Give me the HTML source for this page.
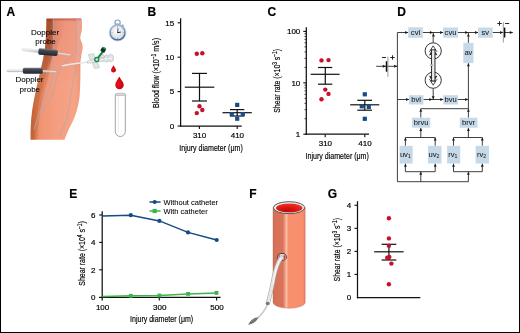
<!DOCTYPE html>
<html><head><meta charset="utf-8"><style>
html,body{margin:0;padding:0;background:#fff;}
body{width:520px;height:333px;overflow:hidden;position:relative;}
svg{position:absolute;left:0;top:0;font-family:"Liberation Sans",sans-serif;will-change:transform;}
text{fill:#000;stroke:#000;stroke-width:0.18px;}
</style></head><body>
<svg width="520" height="333" viewBox="0 0 520 333">
<rect x="0" y="0" width="520" height="333" fill="#fff"/>
<defs>
<linearGradient id="armg" x1="0" y1="0" x2="1" y2="0">
<stop offset="0" stop-color="#d46e46"/><stop offset="0.1" stop-color="#e6865e"/><stop offset="0.22" stop-color="#f09676"/>
<stop offset="0.5" stop-color="#f59e80"/><stop offset="0.85" stop-color="#f7a386"/><stop offset="1" stop-color="#ec9478"/></linearGradient>
<linearGradient id="armv" x1="0" y1="0" x2="0" y2="1">
<stop offset="0" stop-color="#902818" stop-opacity="0.55"/><stop offset="0.025" stop-color="#a83848" stop-opacity="0.1"/>
<stop offset="0.3" stop-color="#a83848" stop-opacity="0.07"/><stop offset="0.55" stop-color="#a83848" stop-opacity="0"/>
<stop offset="1" stop-color="#fff" stop-opacity="0"/></linearGradient>
<linearGradient id="bandg" x1="0" y1="19" x2="0" y2="70" gradientUnits="userSpaceOnUse">
<stop offset="0" stop-color="#782808" stop-opacity="0.42"/><stop offset="0.5" stop-color="#782808" stop-opacity="0.3"/><stop offset="1" stop-color="#782808" stop-opacity="0.1"/></linearGradient>
<linearGradient id="band2" x1="46" y1="0" x2="66" y2="0" gradientUnits="userSpaceOnUse">
<stop offset="0" stop-color="#903818" stop-opacity="0.2"/><stop offset="0.4" stop-color="#903818" stop-opacity="0.16"/><stop offset="1" stop-color="#903818" stop-opacity="0"/></linearGradient>
<linearGradient id="rimg" x1="0" y1="0" x2="0.3" y2="1">
<stop offset="0" stop-color="#a9c0da"/><stop offset="0.6" stop-color="#6a90bb"/><stop offset="1" stop-color="#3d6a9c"/></linearGradient>
<linearGradient id="cylg" x1="0" y1="0" x2="0" y2="1">
<stop offset="0" stop-color="#7a808a"/><stop offset="0.3" stop-color="#404650"/><stop offset="1" stop-color="#22262c"/></linearGradient>
<linearGradient id="rodg" x1="0" y1="0" x2="0" y2="1">
<stop offset="0" stop-color="#fff"/><stop offset="0.6" stop-color="#ddd"/><stop offset="1" stop-color="#aaa"/></linearGradient>
<radialGradient id="dropg" cx="0.4" cy="0.6" r="0.6">
<stop offset="0" stop-color="#ee1020"/><stop offset="1" stop-color="#c8000c"/></radialGradient>
<radialGradient id="watchg" cx="0.45" cy="0.4" r="0.6">
<stop offset="0" stop-color="#ffffff"/><stop offset="1" stop-color="#cfd6de"/></radialGradient>
</defs>
<path d="M46.5,18.6 L81.2,18.6 C82,22 82.3,27 81.6,31 C81,34 80,36 80.2,38.5 C80.6,41 82.6,43 82.6,47 C82.6,51 80.9,55 80.6,60 C80.5,61 80.4,62 80.4,62 C80.4,72 80.6,85 79.6,96 C78.6,106 75,118 70.9,125 C68.5,130 66.5,134 64.5,139.8 L30.6,139.8 C30.4,130 30.8,120 32.2,110 C34,98 37,85 40.6,70 C43,60 45,52 45.8,40 C46.3,30 46.5,24 46.5,18.6 Z" fill="url(#armg)"/>
<path d="M46.5,18.6 L81.2,18.6 C82,22 82.3,27 81.6,31 C81,34 80,36 80.2,38.5 C80.6,41 82.6,43 82.6,47 C82.6,51 80.9,55 80.6,60 C80.5,61 80.4,62 80.4,62 C80.4,72 80.6,85 79.6,96 C78.6,106 75,118 70.9,125 C68.5,130 66.5,134 64.5,139.8 L30.6,139.8 C30.4,130 30.8,120 32.2,110 C34,98 37,85 40.6,70 C43,60 45,52 45.8,40 C46.3,30 46.5,24 46.5,18.6 Z" fill="url(#armv)"/>
<path d="M46.5,19 C46.5,30 45.8,45 43.5,58 C40,74 35,92 32.5,110 C31,122 30.8,132 30.8,139.5 L37,139.5 C37.5,128 39,116 42,102 C44.5,90 48,80 50,70 C52,58 53.2,40 53.2,19 Z" fill="#a04010" opacity="0.2"/>
<path d="M46.5,19 C46.5,30 45.8,45 43.5,58 C40,74 35,92 32.5,110 C31,122 30.8,132 30.8,139.5 L34.5,139.5 C35,128 36.5,116 39,102 C41.5,90 45,80 47,70 C49,58 51,40 51.5,19 Z" fill="#a04010" opacity="0.2"/>
<path d="M76.5,19 L81.2,19 C82,22 82.3,27 81.6,31 C81,34 80,36 80.2,38.5 C80.6,41 82.6,43 82.6,47 C82.6,51 80.9,55 80.6,60 L76,62 C77,50 77,34 76.5,19 Z" fill="#f8b8a8" opacity="0.4"/>
<path d="M46.5,19 L53.4,19 C53.3,32 53.2,45 52.5,55 C51.5,62 49.5,66 47.5,70 L40.6,70 C43,60 45,52 45.8,40 C46.3,30 46.5,24 46.5,19 Z" fill="url(#bandg)"/>
<path d="M46.5,19 L66,19 C64,30 60,42 55,52 C52,58 49,64 46,70 L40.6,70 C43,60 45,52 45.8,40 C46.3,30 46.5,24 46.5,19 Z" fill="url(#band2)"/>
<path d="M53.3,18.8 C53.2,35 53,52 53.4,68 C53,78 50,88 46.2,95 C42,106 37,118 34.2,129.6" fill="none" stroke="#b4a8a8" stroke-width="0.9" stroke-opacity="0.9"/>
<path d="M76.6,19.5 C76.8,32 76.7,46 76.5,51.6 C72,56 66,61 62.8,64.9 C58,72 56,80 52.5,95 C48,104 44,110 40.5,114" fill="none" stroke="#b4a8a8" stroke-width="0.9" stroke-opacity="0.9"/>
<path d="M76.1,65.4 C75,75 72,86 70.9,95 C69.8,106 68.5,112 67.4,116.2 C64,126 61.5,131 59.6,136" fill="none" stroke="#b4a8a8" stroke-width="0.9" stroke-opacity="0.9"/>
<path d="M76.3,53.8 C78.5,55 80,56 81.5,57.6" fill="none" stroke="#b4a8a8" stroke-width="0.9" stroke-opacity="0.9" stroke-opacity="0.6"/>
<path d="M66.5,60 C64.5,62 63.5,64 62.3,66" fill="none" stroke="#b4a8a8" stroke-width="0.9" stroke-opacity="0.9" stroke-opacity="0.7"/>
<path d="M22.2,48.3 L39.4,50.05573439697484 L39.4,52.655734396974836 L22.2,50.7 Z" fill="url(#rodg)" stroke="#c4c4c4" stroke-width="0.3"/>
<line x1="56.7" y1="53.24426560302517" x2="70.3" y2="55.2" stroke="#bdbdbd" stroke-width="1.7"/>
<line x1="56.7" y1="52.844265603025164" x2="70.3" y2="54.75" stroke="#f6f6f6" stroke-width="0.6"/>
<rect x="38.4" y="49.050000000000004" width="19.300000000000004" height="6.3" rx="1.6" fill="url(#cylg)" transform="rotate(5 48.05 52.2)"/>
<path d="M7,69.6 L23.8,69.41316766548195 L23.8,72.01316766548194 L7,72.0 Z" fill="url(#rodg)" stroke="#c4c4c4" stroke-width="0.3"/>
<line x1="41.7" y1="71.08683233451805" x2="55.9" y2="72.0" stroke="#bdbdbd" stroke-width="1.7"/>
<line x1="41.7" y1="70.68683233451804" x2="55.9" y2="71.55" stroke="#f6f6f6" stroke-width="0.6"/>
<rect x="22.8" y="67.8" width="19.900000000000002" height="6.0" rx="1.6" fill="url(#cylg)" transform="rotate(0.5 32.75 70.8)"/>
<text x="45.1" y="34.8" font-size="8" text-anchor="middle" style="stroke-width:0.08px">Doppler</text>
<text x="45.6" y="43.9" font-size="8" text-anchor="middle" style="stroke-width:0.08px">probe</text>
<text x="29.5" y="82.4" font-size="8" text-anchor="middle" style="stroke-width:0.08px">Doppler</text>
<text x="29.8" y="91.5" font-size="8" text-anchor="middle" style="stroke-width:0.08px">probe</text>
<path d="M61.9,65.9 C70,64 80,62.8 90,62" fill="none" stroke="#ddd" stroke-width="1.3"/>
<path d="M61.9,65.9 C70,64 80,62.8 90,62" fill="none" stroke="#fafafa" stroke-width="0.5"/>
<g fill="#e2e5e5" stroke="#a9aeae" stroke-width="0.45">
<path d="M88.2,54.6 L93.6,53.6 L95.8,59.6 L90.4,60.6 Z"/>
<path d="M92.2,62.4 L97.2,61.8 L99.6,67.8 L94.4,68.5 Z"/>
<path d="M87.5,61 L100,58.6 L104,56.2 L104,61.2 L100,61.8 L87.5,63.2 Z"/>
<ellipse cx="106.3" cy="58.6" rx="2.6" ry="3.6"/>
<ellipse cx="110.6" cy="58.1" rx="3" ry="3.8"/>
<path d="M100.5,58 L102.8,53.8 L104.6,57.4 Z"/>
</g>
<path d="M88,61.8 L112,58" stroke="#f6f6f6" stroke-width="0.8"/>
<line x1="97.8" y1="58.2" x2="102.8" y2="51.6" stroke="#178a48" stroke-width="2.1"/>
<circle cx="96.8" cy="59.5" r="2" fill="#d5ecdc" stroke="#178a48" stroke-width="1.3"/>
<rect x="101" y="47.4" width="4.6" height="4.8" rx="1" transform="rotate(30 103.3 49.8)" fill="#14301e"/>
<rect x="101.2" y="47.2" width="4.2" height="1.5" rx="0.6" transform="rotate(30 103.3 49.8)" fill="#2a9a5a"/>
<circle cx="117.6" cy="22.6" r="2.6" fill="none" stroke="#8aa0b8" stroke-width="1.2"/>
<rect x="116.4" y="23.5" width="2.4" height="2.5" fill="#7f95ad"/>
<rect x="121.8" y="24.6" width="2" height="1.8" fill="#8aa0b8" transform="rotate(40 122.8 25.5)"/>
<circle cx="117.6" cy="32.6" r="7.5" fill="url(#watchg)" stroke="url(#rimg)" stroke-width="1.5"/>
<circle cx="117.6" cy="32.6" r="8.4" fill="none" stroke="#a8bcd2" stroke-width="0.6"/>
<circle cx="117.6" cy="27.0" r="0.45" fill="#555"/>
<circle cx="123.19999999999999" cy="32.6" r="0.45" fill="#555"/>
<circle cx="117.6" cy="38.2" r="0.45" fill="#555"/>
<circle cx="112.0" cy="32.6" r="0.45" fill="#555"/>
<line x1="117.6" y1="32.8" x2="118" y2="28.3" stroke="#222" stroke-width="0.8"/>
<line x1="117.4" y1="32.7" x2="120.8" y2="32.1" stroke="#222" stroke-width="1"/>
<path d="M113.5,65.2 C114.3,67 116,68.4 116,70 C116,71.5 114.9,72.4 113.5,72.4 C112.1,72.4 111,71.5 111,70 C111,68.4 112.7,67 113.5,65.2 Z" fill="url(#dropg)"/>
<path d="M119.3,76.6 C120.5,79.5 123.7,82 123.7,85 C123.7,87.5 121.8,89.2 119.5,89.2 C117.2,89.2 115.3,87.5 115.3,85 C115.3,82 118.1,79.5 119.3,76.6 Z" fill="url(#dropg)"/>
<path d="M115.3,94.5 L115.3,131.5 A5,5 0 0 0 125.3,131.5 L125.3,94.5" fill="#fff" stroke="#8c8c8c" stroke-width="0.8"/>
<line x1="118.3" y1="96" x2="118.3" y2="132" stroke="#e2e2e2" stroke-width="0.8"/>
<ellipse cx="120.3" cy="94.4" rx="5.4" ry="1.2" fill="#d8d8d8" stroke="#9a9a9a" stroke-width="0.5"/>
<defs>
<linearGradient id="vesg" x1="273" y1="0" x2="305.2" y2="0" gradientUnits="userSpaceOnUse">
<stop offset="0" stop-color="#cf6a52"/><stop offset="0.05" stop-color="#d87058"/><stop offset="0.3" stop-color="#d8735a"/>
<stop offset="0.36" stop-color="#e8917a"/><stop offset="0.42" stop-color="#fbc0a6"/><stop offset="0.47" stop-color="#f8916e"/>
<stop offset="0.93" stop-color="#f98e6c"/><stop offset="1" stop-color="#e0806a"/></linearGradient>
<radialGradient id="lumg" cx="0.4" cy="0.75" r="0.7">
<stop offset="0" stop-color="#b80c0c"/><stop offset="0.5" stop-color="#d81a14"/><stop offset="1" stop-color="#f0301e"/></radialGradient>
<linearGradient id="tubeg" x1="0" y1="0" x2="1" y2="0">
<stop offset="0" stop-color="#b8b8b8"/><stop offset="0.5" stop-color="#f4f4f4"/><stop offset="1" stop-color="#c4c4c4"/></linearGradient>
</defs>
<path d="M273,207.7 L273,302.3 A16.1,6 0 0 0 305.2,302.3 L305.2,207.7 Z" fill="url(#vesg)" stroke="#b86a5a" stroke-width="0.4"/>
<ellipse cx="289.1" cy="207.7" rx="15.7" ry="6" fill="#f2f2f2" stroke="#555" stroke-width="1"/>
<ellipse cx="289.3" cy="208" rx="13.2" ry="4.6" fill="url(#lumg)"/>
<ellipse cx="282" cy="256.9" rx="4.4" ry="3.4" fill="#ece4e4" stroke="#3a3a3a" stroke-width="1"/>
<ellipse cx="284.4" cy="257" rx="1.1" ry="1.9" fill="#e8302a"/>
<ellipse cx="279.2" cy="256" rx="0.9" ry="1.1" fill="#e8403a"/>
<path d="M281.5,257.5 C277,263 274.5,272 272.5,284 C271,292 269.2,298 268,303" fill="none" stroke="#a8a8a8" stroke-width="4.2" stroke-linecap="round"/>
<path d="M281.5,257.5 C277,263 274.5,272 272.5,284 C271,292 269.2,298 268,303" fill="none" stroke="#e6e6e6" stroke-width="3" stroke-linecap="round"/>
<path d="M281,258.5 C277,264 275,272 273.2,284" fill="none" stroke="#fafafa" stroke-width="1"/>
<path d="M267.6,304.5 C265,310 262,314.5 257.7,317.8" fill="none" stroke="#c4c4c4" stroke-width="1.5"/>
<ellipse cx="267.6" cy="303.4" rx="1.9" ry="1.6" fill="#777"/>
<g transform="translate(253.4,321) rotate(-36.4)"><path d="M5.6,0 C3,-2 -2,-2.2 -5.8,0 C-2,1.6 3,1.8 5.6,0 Z" fill="#8a8a8a" stroke="#555" stroke-width="0.5"/><path d="M-3.5,-1.2 L-2.5,1.2 M-1.5,-1.6 L-0.5,1.5 M0.5,-1.6 L1.5,1.4 M2.5,-1.3 L3.3,1" stroke="#3a3a3a" stroke-width="0.5"/></g>
<text x="6.5" y="15.8" font-size="12" text-anchor="start" font-weight="bold" >A</text>
<text x="147.5" y="15.5" font-size="12" text-anchor="start" font-weight="bold" >B</text>
<text x="267.4" y="15.5" font-size="12" text-anchor="start" font-weight="bold" >C</text>
<text x="397.3" y="16.2" font-size="12" text-anchor="start" font-weight="bold" >D</text>
<text x="69.3" y="198.4" font-size="12" text-anchor="start" font-weight="bold" >E</text>
<text x="249.3" y="198.1" font-size="12" text-anchor="start" font-weight="bold" >F</text>
<text x="327.8" y="197.9" font-size="12" text-anchor="start" font-weight="bold" >G</text>
<line x1="180.6" y1="18.3" x2="180.6" y2="126.6" stroke="#111" stroke-width="1.25"/>
<line x1="180.0" y1="126" x2="241.7" y2="126" stroke="#111" stroke-width="1.25"/>
<line x1="177.6" y1="22.8" x2="180.6" y2="22.8" stroke="#111" stroke-width="1.125"/>
<text x="174.1" y="25.6" font-size="8" text-anchor="end" font-weight="normal" >15</text>
<line x1="177.6" y1="57.2" x2="180.6" y2="57.2" stroke="#111" stroke-width="1.125"/>
<text x="174.1" y="60.0" font-size="8" text-anchor="end" font-weight="normal" >10</text>
<line x1="177.6" y1="91.6" x2="180.6" y2="91.6" stroke="#111" stroke-width="1.125"/>
<text x="174.1" y="94.39999999999999" font-size="8" text-anchor="end" font-weight="normal" >5</text>
<line x1="177.6" y1="126" x2="180.6" y2="126" stroke="#111" stroke-width="1.125"/>
<text x="174.1" y="128.8" font-size="8" text-anchor="end" font-weight="normal" >0</text>
<line x1="199.4" y1="126" x2="199.4" y2="128.9" stroke="#111" stroke-width="1.125"/>
<text x="199.6" y="137.8" font-size="8" text-anchor="middle" font-weight="normal" >310</text>
<line x1="237.2" y1="126" x2="237.2" y2="128.9" stroke="#111" stroke-width="1.125"/>
<text x="237.39999999999998" y="137.8" font-size="8" text-anchor="middle" font-weight="normal" >410</text>
<text x="211" y="150.9" font-size="9.8" text-anchor="middle" font-weight="normal" textLength="63.5" lengthAdjust="spacingAndGlyphs">Injury diameter (μm)</text>
<text transform="translate(159.2,73.0) rotate(-90)" font-size="9.6" text-anchor="middle" textLength="70" lengthAdjust="spacingAndGlyphs">Blood flow (×10<tspan font-size="6.6" dy="-3.2">−1</tspan><tspan dy="3.2"> m/s)</tspan></text>
<line x1="184.8" y1="87.2" x2="214.3" y2="87.2" stroke="#111" stroke-width="1.2"/>
<line x1="199.5" y1="73.4" x2="199.5" y2="101" stroke="#111" stroke-width="1.2"/>
<line x1="192" y1="73.4" x2="207" y2="73.4" stroke="#111" stroke-width="1.2"/>
<line x1="192" y1="101" x2="207" y2="101" stroke="#111" stroke-width="1.2"/>
<circle cx="196.8" cy="53.8" r="2.2" fill="#c8102e"/>
<circle cx="202.3" cy="53.2" r="2.2" fill="#c8102e"/>
<circle cx="199.5" cy="106.2" r="2.2" fill="#c8102e"/>
<circle cx="202.3" cy="110" r="2.2" fill="#c8102e"/>
<circle cx="196.8" cy="113.1" r="2.2" fill="#c8102e"/>
<line x1="222.5" y1="112.7" x2="251.8" y2="112.7" stroke="#111" stroke-width="1.2"/>
<line x1="237.2" y1="109.6" x2="237.2" y2="116" stroke="#111" stroke-width="1.2"/>
<line x1="230" y1="109.6" x2="244.3" y2="109.6" stroke="#111" stroke-width="1.2"/>
<line x1="230" y1="116" x2="244.3" y2="116" stroke="#111" stroke-width="1.2"/>
<rect x="235.1" y="102.80000000000001" width="4.2" height="4.2" fill="#164c8a"/>
<rect x="229.70000000000002" y="112.0" width="4.2" height="4.2" fill="#164c8a"/>
<rect x="240.70000000000002" y="112.0" width="4.2" height="4.2" fill="#164c8a"/>
<rect x="235.1" y="116.60000000000001" width="4.2" height="4.2" fill="#164c8a"/>
<line x1="306.3" y1="27.2" x2="306.3" y2="134.8" stroke="#111" stroke-width="1.25"/>
<line x1="305.7" y1="134.2" x2="369" y2="134.2" stroke="#111" stroke-width="1.25"/>
<line x1="303.3" y1="31.4" x2="306.3" y2="31.4" stroke="#111" stroke-width="1.125"/>
<text x="300.3" y="34.199999999999996" font-size="8" text-anchor="end" font-weight="normal" >100</text>
<line x1="303.3" y1="82.9" x2="306.3" y2="82.9" stroke="#111" stroke-width="1.125"/>
<text x="300.3" y="85.7" font-size="8" text-anchor="end" font-weight="normal" >10</text>
<line x1="303.3" y1="134.2" x2="306.3" y2="134.2" stroke="#111" stroke-width="1.125"/>
<text x="300.3" y="137.0" font-size="8" text-anchor="end" font-weight="normal" >1</text>
<line x1="304.5" y1="67.39695522330497" x2="306.3" y2="67.39695522330497" stroke="#111" stroke-width="0.8"/>
<line x1="304.5" y1="58.32825538193738" x2="306.3" y2="58.32825538193738" stroke="#111" stroke-width="0.8"/>
<line x1="304.5" y1="51.89391044660994" x2="306.3" y2="51.89391044660994" stroke="#111" stroke-width="0.8"/>
<line x1="304.5" y1="46.903044776695026" x2="306.3" y2="46.903044776695026" stroke="#111" stroke-width="0.8"/>
<line x1="304.5" y1="42.825210605242354" x2="306.3" y2="42.825210605242354" stroke="#111" stroke-width="0.8"/>
<line x1="304.5" y1="39.37745093926577" x2="306.3" y2="39.37745093926577" stroke="#111" stroke-width="0.8"/>
<line x1="304.5" y1="36.39086566991491" x2="306.3" y2="36.39086566991491" stroke="#111" stroke-width="0.8"/>
<line x1="304.5" y1="33.756510763874765" x2="306.3" y2="33.756510763874765" stroke="#111" stroke-width="0.8"/>
<line x1="304.5" y1="118.75716122243776" x2="306.3" y2="118.75716122243776" stroke="#111" stroke-width="0.8"/>
<line x1="304.5" y1="109.72367963288131" x2="306.3" y2="109.72367963288131" stroke="#111" stroke-width="0.8"/>
<line x1="304.5" y1="103.31432244487553" x2="306.3" y2="103.31432244487553" stroke="#111" stroke-width="0.8"/>
<line x1="304.5" y1="98.34283877756224" x2="306.3" y2="98.34283877756224" stroke="#111" stroke-width="0.8"/>
<line x1="304.5" y1="94.28084085531908" x2="306.3" y2="94.28084085531908" stroke="#111" stroke-width="0.8"/>
<line x1="304.5" y1="90.84647054726864" x2="306.3" y2="90.84647054726864" stroke="#111" stroke-width="0.8"/>
<line x1="304.5" y1="87.8714836673133" x2="306.3" y2="87.8714836673133" stroke="#111" stroke-width="0.8"/>
<line x1="304.5" y1="85.24735926576264" x2="306.3" y2="85.24735926576264" stroke="#111" stroke-width="0.8"/>
<line x1="325.2" y1="134.2" x2="325.2" y2="137.3" stroke="#111" stroke-width="1.125"/>
<text x="325.4" y="146.2" font-size="8" text-anchor="middle" font-weight="normal" >310</text>
<line x1="364.8" y1="134.2" x2="364.8" y2="137.3" stroke="#111" stroke-width="1.125"/>
<text x="365.0" y="146.2" font-size="8" text-anchor="middle" font-weight="normal" >410</text>
<text x="337.2" y="158.7" font-size="9.8" text-anchor="middle" font-weight="normal" textLength="63.3" lengthAdjust="spacingAndGlyphs">Injury diameter (μm)</text>
<text transform="translate(280,80.9) rotate(-90)" font-size="9.6" text-anchor="middle" textLength="63.8" lengthAdjust="spacingAndGlyphs">Shear rate (×10<tspan font-size="6.6" dy="-3.2">3</tspan><tspan dy="3.2"> s</tspan><tspan font-size="6.6" dy="-3.2">−1</tspan><tspan dy="3.2">)</tspan></text>
<line x1="310.7" y1="74.3" x2="339.6" y2="74.3" stroke="#111" stroke-width="1.2"/>
<line x1="325.3" y1="67.5" x2="325.3" y2="84.2" stroke="#111" stroke-width="1.2"/>
<line x1="318" y1="67.5" x2="332.3" y2="67.5" stroke="#111" stroke-width="1.2"/>
<line x1="318" y1="84.2" x2="332.3" y2="84.2" stroke="#111" stroke-width="1.2"/>
<circle cx="321.5" cy="60.4" r="2.2" fill="#c8102e"/>
<circle cx="328.5" cy="60.1" r="2.2" fill="#c8102e"/>
<circle cx="325.3" cy="89.6" r="2.2" fill="#c8102e"/>
<circle cx="328.5" cy="93.9" r="2.2" fill="#c8102e"/>
<circle cx="321.5" cy="99.3" r="2.2" fill="#c8102e"/>
<line x1="350.2" y1="104.8" x2="379.3" y2="104.8" stroke="#111" stroke-width="1.2"/>
<line x1="364.8" y1="100.3" x2="364.8" y2="110.2" stroke="#111" stroke-width="1.2"/>
<line x1="357.3" y1="100.3" x2="372" y2="100.3" stroke="#111" stroke-width="1.2"/>
<line x1="357.3" y1="110.2" x2="372" y2="110.2" stroke="#111" stroke-width="1.2"/>
<rect x="362.7" y="92.2" width="4.2" height="4.2" fill="#164c8a"/>
<rect x="359.7" y="104.2" width="4.2" height="4.2" fill="#164c8a"/>
<rect x="366.7" y="104.80000000000001" width="4.2" height="4.2" fill="#164c8a"/>
<rect x="362.7" y="116.7" width="4.2" height="4.2" fill="#164c8a"/>
<line x1="102.2" y1="211.2" x2="102.2" y2="300.6" stroke="#111" stroke-width="1.25"/>
<line x1="99.0" y1="297.4" x2="220.6" y2="297.4" stroke="#111" stroke-width="1.25"/>
<line x1="99.2" y1="215.0" x2="102.2" y2="215.0" stroke="#111" stroke-width="1.125"/>
<text x="95.5" y="217.8" font-size="8" text-anchor="end" font-weight="normal" >6</text>
<line x1="99.2" y1="242.4" x2="102.2" y2="242.4" stroke="#111" stroke-width="1.125"/>
<text x="95.5" y="245.20000000000002" font-size="8" text-anchor="end" font-weight="normal" >4</text>
<line x1="99.2" y1="269.8" x2="102.2" y2="269.8" stroke="#111" stroke-width="1.125"/>
<text x="95.5" y="272.6" font-size="8" text-anchor="end" font-weight="normal" >2</text>
<text x="95.5" y="300.0" font-size="8" text-anchor="end" font-weight="normal" >0</text>
<line x1="159.3" y1="297.4" x2="159.3" y2="300.5" stroke="#111" stroke-width="1.125"/>
<line x1="216.6" y1="297.4" x2="216.6" y2="300.5" stroke="#111" stroke-width="1.125"/>
<text x="102.60000000000001" y="309.5" font-size="8" text-anchor="middle" font-weight="normal" >100</text>
<text x="159.70000000000002" y="309.5" font-size="8" text-anchor="middle" font-weight="normal" >300</text>
<text x="217.0" y="309.5" font-size="8" text-anchor="middle" font-weight="normal" >500</text>
<text x="161.6" y="322.3" font-size="9.8" text-anchor="middle" font-weight="normal" textLength="63.1" lengthAdjust="spacingAndGlyphs">Injury diameter (μm)</text>
<text transform="translate(85.3,253.5) rotate(-90)" font-size="9.6" text-anchor="middle" textLength="64.5" lengthAdjust="spacingAndGlyphs">Shear rate (×10<tspan font-size="6.6" dy="-3.2">4</tspan><tspan dy="3.2"> s</tspan><tspan font-size="6.6" dy="-3.2">−1</tspan><tspan dy="3.2">)</tspan></text>
<polyline fill="none" stroke="#154a84" stroke-width="1.5" points="102.4,215.9 130.8,215.2 159.4,220.9 188.0,232.4 216.7,240"/>
<circle cx="130.8" cy="215.2" r="2.1" fill="#154a84"/>
<circle cx="159.4" cy="220.9" r="2.1" fill="#154a84"/>
<circle cx="188.0" cy="232.4" r="2.1" fill="#154a84"/>
<circle cx="216.7" cy="240" r="2.1" fill="#154a84"/>
<polyline fill="none" stroke="#3cb44b" stroke-width="1.5" points="102.4,296.6 130.8,295.8 159.3,295.5 188.1,293.9 216.5,292.9"/>
<rect x="128.9" y="293.90000000000003" width="3.8" height="3.8" fill="#3cb44b"/>
<rect x="157.4" y="293.6" width="3.8" height="3.8" fill="#3cb44b"/>
<rect x="186.2" y="292.0" width="3.8" height="3.8" fill="#3cb44b"/>
<rect x="214.6" y="291.0" width="3.8" height="3.8" fill="#3cb44b"/>
<line x1="149.5" y1="202" x2="160.6" y2="202" stroke="#154a84" stroke-width="1.5"/>
<circle cx="154.7" cy="202" r="2.1" fill="#154a84"/>
<line x1="149.5" y1="211" x2="160.6" y2="211" stroke="#3cb44b" stroke-width="1.5"/>
<rect x="152.6" y="208.9" width="4.2" height="4.2" fill="#3cb44b"/>
<text x="163.5" y="204.5" font-size="7.5" text-anchor="start" font-weight="normal" style="stroke-width:0.06px">Without catheter</text>
<text x="163.5" y="213.5" font-size="7.5" text-anchor="start" font-weight="normal" style="stroke-width:0.06px">With catheter</text>
<line x1="357.5" y1="201.2" x2="357.5" y2="298.3" stroke="#111" stroke-width="1.25"/>
<line x1="356.9" y1="297.7" x2="420.3" y2="297.7" stroke="#111" stroke-width="1.25"/>
<text x="351.2" y="300.3" font-size="8" text-anchor="end" font-weight="normal" >0</text>
<line x1="354.5" y1="274.45" x2="357.5" y2="274.45" stroke="#111" stroke-width="1.125"/>
<text x="351.2" y="277.25" font-size="8" text-anchor="end" font-weight="normal" >1</text>
<line x1="354.5" y1="251.4" x2="357.5" y2="251.4" stroke="#111" stroke-width="1.125"/>
<text x="351.2" y="254.20000000000002" font-size="8" text-anchor="end" font-weight="normal" >2</text>
<line x1="354.5" y1="228.35" x2="357.5" y2="228.35" stroke="#111" stroke-width="1.125"/>
<text x="351.2" y="231.15" font-size="8" text-anchor="end" font-weight="normal" >3</text>
<line x1="354.5" y1="205.3" x2="357.5" y2="205.3" stroke="#111" stroke-width="1.125"/>
<text x="351.2" y="208.10000000000002" font-size="8" text-anchor="end" font-weight="normal" >4</text>
<text transform="translate(340,249.7) rotate(-90)" font-size="9.6" text-anchor="middle" textLength="63.5" lengthAdjust="spacingAndGlyphs">Shear rate (×10<tspan font-size="6.6" dy="-3.2">3</tspan><tspan dy="3.2"> s</tspan><tspan font-size="6.6" dy="-3.2">−1</tspan><tspan dy="3.2">)</tspan></text>
<line x1="374.2" y1="251.8" x2="403.6" y2="251.8" stroke="#111" stroke-width="1.2"/>
<line x1="388.9" y1="244.3" x2="388.9" y2="260" stroke="#111" stroke-width="1.2"/>
<line x1="381.6" y1="244.3" x2="396.3" y2="244.3" stroke="#111" stroke-width="1.2"/>
<line x1="381.6" y1="260" x2="396.3" y2="260" stroke="#111" stroke-width="1.2"/>
<circle cx="388.9" cy="218.2" r="2.2" fill="#c8102e"/>
<circle cx="388.9" cy="238.4" r="2.2" fill="#c8102e"/>
<circle cx="388.9" cy="245.8" r="2.2" fill="#c8102e"/>
<circle cx="387.2" cy="257.7" r="2.2" fill="#c8102e"/>
<circle cx="389.3" cy="256.9" r="2.2" fill="#c8102e"/>
<circle cx="391.4" cy="263.6" r="2.2" fill="#c8102e"/>
<circle cx="388.9" cy="284.2" r="2.2" fill="#c8102e"/>
<line x1="397.4" y1="32.5" x2="397.4" y2="181.7" stroke="#2a2a2a" stroke-width="0.9"/>
<line x1="397.4" y1="32.5" x2="408.2" y2="32.5" stroke="#2a2a2a" stroke-width="0.9"/>
<polygon fill="#1a1a1a" points="408.20,32.50 405.21,31.07 405.21,33.93"/>
<line x1="422.8" y1="32.5" x2="443.1" y2="32.5" stroke="#2a2a2a" stroke-width="0.9"/>
<polygon fill="#1a1a1a" points="443.10,32.50 440.11,31.07 440.11,33.93"/>
<polygon fill="#1a1a1a" points="432.90,32.50 429.91,31.07 429.91,33.93"/>
<polygon fill="#1a1a1a" points="433.50,33.50 432.07,36.49 434.93,36.49"/>
<line x1="457.9" y1="32.5" x2="478" y2="32.5" stroke="#2a2a2a" stroke-width="0.9"/>
<polygon fill="#1a1a1a" points="478.00,32.50 475.01,31.07 475.01,33.93"/>
<polygon fill="#1a1a1a" points="468.20,32.50 465.21,31.07 465.21,33.93"/>
<polygon fill="#1a1a1a" points="468.40,33.50 466.97,36.49 469.83,36.49"/>
<line x1="492.7" y1="32.5" x2="512.8" y2="32.5" stroke="#2a2a2a" stroke-width="0.9"/>
<polygon fill="#1a1a1a" points="512.80,32.50 509.81,31.07 509.81,33.93"/>
<polygon fill="#1a1a1a" points="503.00,32.50 500.01,31.07 500.01,33.93"/>
<line x1="503.3" y1="22.2" x2="503.3" y2="42.5" stroke="#999" stroke-width="1"/>
<line x1="504.6" y1="27.6" x2="504.6" y2="37.5" stroke="#111" stroke-width="1.5"/>
<path d="M497.3,23.5 h4.4 M499.5,21.3 v4.4 M505.1,23.5 h4.1" stroke="#222" stroke-width="1" fill="none"/>
<line x1="376.2" y1="66.3" x2="397.4" y2="66.3" stroke="#2a2a2a" stroke-width="0.9"/>
<polygon fill="#1a1a1a" points="397.10,66.30 394.11,64.87 394.11,67.73"/>
<polygon fill="#1a1a1a" points="385.80,66.30 382.81,64.87 382.81,67.73"/>
<line x1="387.9" y1="56.6" x2="387.9" y2="76.8" stroke="#999" stroke-width="1"/>
<line x1="386.5" y1="61.2" x2="386.5" y2="71.7" stroke="#111" stroke-width="1.5"/>
<path d="M382.1,57.5 h3.9 M390.3,57.5 h4.4 M392.5,55.3 v4.4" stroke="#222" stroke-width="1" fill="none"/>
<line x1="468.4" y1="32.5" x2="468.4" y2="42.9" stroke="#2a2a2a" stroke-width="0.9"/>
<line x1="468.4" y1="63.1" x2="468.4" y2="108.7" stroke="#2a2a2a" stroke-width="0.9"/>
<polygon fill="#1a1a1a" points="468.40,63.30 466.97,66.29 469.83,66.29"/>
<line x1="433.2" y1="32.5" x2="433.2" y2="42.8" stroke="#2a2a2a" stroke-width="0.9"/>
<circle cx="433.2" cy="50.9" r="8.1" fill="none" stroke="#2a2a2a" stroke-width="0.95"/>
<circle cx="433.2" cy="80.2" r="8.1" fill="none" stroke="#2a2a2a" stroke-width="0.95"/>
<rect x="431.4" y="49.5" width="3.6" height="31.5" fill="#d8d8d8" stroke="#111" stroke-width="0.85"/>
<rect x="432.7" y="50" width="1" height="30.5" fill="#f8f8f8"/>
<polygon points="431.0,51.4 429.0,55.599999999999994 431.4,54.4" fill="#1a1a1a"/>
<polygon points="435.4,51.4 437.4,55.599999999999994 435.0,54.4" fill="#1a1a1a"/>
<path d="M429.2,51.8 L433.2,47.4 L437.2,51.8" fill="none" stroke="#1a1a1a" stroke-width="0.8"/>
<polygon points="433.2,45.8 430.7,49.8 435.7,49.8" fill="#fff" stroke="#111" stroke-width="0.75"/>
<polygon points="431.0,79.60000000000001 429.0,75.4 431.4,76.60000000000001" fill="#1a1a1a"/>
<polygon points="435.4,79.60000000000001 437.4,75.4 435.0,76.60000000000001" fill="#1a1a1a"/>
<path d="M429.2,79.2 L433.2,83.60000000000001 L437.2,79.2" fill="none" stroke="#1a1a1a" stroke-width="0.8"/>
<polygon points="433.2,85.2 430.7,81.2 435.7,81.2" fill="#fff" stroke="#111" stroke-width="0.75"/>
<circle cx="431.5" cy="65.2" r="0.9" fill="#fff" stroke="#333" stroke-width="0.45"/>
<line x1="433.2" y1="88.5" x2="433.2" y2="99.5" stroke="#2a2a2a" stroke-width="0.9"/>
<polygon fill="#1a1a1a" points="433.20,99.30 431.77,96.31 434.63,96.31"/>
<line x1="397.4" y1="99.5" x2="409" y2="99.5" stroke="#2a2a2a" stroke-width="0.9"/>
<polygon fill="#1a1a1a" points="409.00,99.50 406.01,98.07 406.01,100.93"/>
<line x1="423.4" y1="99.5" x2="443.3" y2="99.5" stroke="#2a2a2a" stroke-width="0.9"/>
<polygon fill="#1a1a1a" points="443.30,99.50 440.31,98.07 440.31,100.93"/>
<polygon fill="#1a1a1a" points="432.30,99.50 429.31,98.07 429.31,100.93"/>
<line x1="458" y1="99.5" x2="468.4" y2="99.5" stroke="#2a2a2a" stroke-width="0.9"/>
<polygon fill="#1a1a1a" points="468.10,99.50 465.11,98.07 465.11,100.93"/>
<line x1="420.8" y1="108.7" x2="468.4" y2="108.7" stroke="#2a2a2a" stroke-width="0.9"/>
<polygon fill="#1a1a1a" points="420.80,108.80 419.37,111.79 422.23,111.79"/>
<line x1="420.8" y1="108.7" x2="420.8" y2="117.7" stroke="#2a2a2a" stroke-width="0.9"/>
<polygon fill="#1a1a1a" points="468.40,108.80 466.97,111.79 469.83,111.79"/>
<line x1="468.4" y1="108.7" x2="468.4" y2="117.7" stroke="#2a2a2a" stroke-width="0.9"/>
<line x1="420.8" y1="127.7" x2="420.8" y2="137.5" stroke="#2a2a2a" stroke-width="0.9"/>
<polygon fill="#1a1a1a" points="420.80,127.90 419.37,130.89 422.23,130.89"/>
<line x1="405.4" y1="137.5" x2="435.2" y2="137.5" stroke="#2a2a2a" stroke-width="0.9"/>
<line x1="405.4" y1="137.5" x2="405.4" y2="145.8" stroke="#2a2a2a" stroke-width="0.9"/>
<polygon fill="#1a1a1a" points="405.40,137.60 403.97,140.59 406.83,140.59"/>
<line x1="405.4" y1="163.5" x2="405.4" y2="171.7" stroke="#2a2a2a" stroke-width="0.9"/>
<polygon fill="#1a1a1a" points="405.40,163.70 403.97,166.69 406.83,166.69"/>
<line x1="435.2" y1="137.5" x2="435.2" y2="145.8" stroke="#2a2a2a" stroke-width="0.9"/>
<polygon fill="#1a1a1a" points="435.20,137.60 433.77,140.59 436.63,140.59"/>
<line x1="435.2" y1="163.5" x2="435.2" y2="171.7" stroke="#2a2a2a" stroke-width="0.9"/>
<polygon fill="#1a1a1a" points="435.20,163.70 433.77,166.69 436.63,166.69"/>
<line x1="405.4" y1="171.7" x2="435.2" y2="171.7" stroke="#2a2a2a" stroke-width="0.9"/>
<line x1="420.8" y1="171.7" x2="420.8" y2="181.7" stroke="#2a2a2a" stroke-width="0.9"/>
<polygon fill="#1a1a1a" points="420.80,171.80 419.37,174.79 422.23,174.79"/>
<line x1="468.4" y1="127.7" x2="468.4" y2="137.5" stroke="#2a2a2a" stroke-width="0.9"/>
<polygon fill="#1a1a1a" points="468.40,127.90 466.97,130.89 469.83,130.89"/>
<line x1="453.5" y1="137.5" x2="482.3" y2="137.5" stroke="#2a2a2a" stroke-width="0.9"/>
<line x1="453.5" y1="137.5" x2="453.5" y2="145.8" stroke="#2a2a2a" stroke-width="0.9"/>
<polygon fill="#1a1a1a" points="453.50,137.60 452.07,140.59 454.93,140.59"/>
<line x1="453.5" y1="163.5" x2="453.5" y2="171.7" stroke="#2a2a2a" stroke-width="0.9"/>
<polygon fill="#1a1a1a" points="453.50,163.70 452.07,166.69 454.93,166.69"/>
<line x1="482.3" y1="137.5" x2="482.3" y2="145.8" stroke="#2a2a2a" stroke-width="0.9"/>
<polygon fill="#1a1a1a" points="482.30,137.60 480.87,140.59 483.73,140.59"/>
<line x1="482.3" y1="163.5" x2="482.3" y2="171.7" stroke="#2a2a2a" stroke-width="0.9"/>
<polygon fill="#1a1a1a" points="482.30,163.70 480.87,166.69 483.73,166.69"/>
<line x1="453.5" y1="171.7" x2="482.3" y2="171.7" stroke="#2a2a2a" stroke-width="0.9"/>
<line x1="468.4" y1="171.7" x2="468.4" y2="181.7" stroke="#2a2a2a" stroke-width="0.9"/>
<polygon fill="#1a1a1a" points="468.40,171.80 466.97,174.79 469.83,174.79"/>
<line x1="397.4" y1="181.7" x2="468.4" y2="181.7" stroke="#2a2a2a" stroke-width="0.9"/>
<rect x="408.2" y="27.3" width="14.600000000000023" height="10.499999999999996" fill="#c6d9e8"/>
<text x="415.5" y="34.75" font-size="7.6" text-anchor="middle" style="fill:#1a1a1a;stroke:#1a1a1a;stroke-width:0.06px">cvl</text>
<rect x="443.1" y="27.5" width="14.799999999999955" height="10.200000000000003" fill="#c6d9e8"/>
<text x="450.5" y="34.800000000000004" font-size="7.6" text-anchor="middle" style="fill:#1a1a1a;stroke:#1a1a1a;stroke-width:0.06px">cvu</text>
<rect x="478" y="27.5" width="14.699999999999989" height="10.200000000000003" fill="#c6d9e8"/>
<text x="485.35" y="34.800000000000004" font-size="7.6" text-anchor="middle" style="fill:#1a1a1a;stroke:#1a1a1a;stroke-width:0.06px">sv</text>
<rect x="463.3" y="42.9" width="10.199999999999989" height="20.200000000000003" fill="#c6d9e8"/>
<text x="468.4" y="55.2" font-size="7.6" text-anchor="middle" style="fill:#1a1a1a;stroke:#1a1a1a;stroke-width:0.06px">av</text>
<rect x="409" y="95.2" width="14.399999999999977" height="9.299999999999997" fill="#c6d9e8"/>
<text x="416.2" y="102.05" font-size="7.6" text-anchor="middle" style="fill:#1a1a1a;stroke:#1a1a1a;stroke-width:0.06px">bvl</text>
<rect x="443.3" y="95.2" width="14.699999999999989" height="9.299999999999997" fill="#c6d9e8"/>
<text x="450.65" y="102.05" font-size="7.6" text-anchor="middle" style="fill:#1a1a1a;stroke:#1a1a1a;stroke-width:0.06px">bvu</text>
<rect x="412.1" y="117.7" width="18.19999999999999" height="10.0" fill="#c6d9e8"/>
<text x="421.20000000000005" y="124.9" font-size="7.6" text-anchor="middle" style="fill:#1a1a1a;stroke:#1a1a1a;stroke-width:0.06px">brvu</text>
<rect x="459.7" y="117.7" width="17.80000000000001" height="10.0" fill="#c6d9e8"/>
<text x="468.6" y="124.9" font-size="7.6" text-anchor="middle" style="fill:#1a1a1a;stroke:#1a1a1a;stroke-width:0.06px">brvr</text>
<rect x="399.6" y="145.8" width="13.099999999999966" height="17.69999999999999" fill="#c6d9e8"/>
<text x="405.34999999999997" y="156.85" font-size="7.6" text-anchor="middle" style="fill:#1a1a1a;stroke:#1a1a1a;stroke-width:0.06px">uv<tspan font-size="5.2" dy="1.6">1</tspan></text>
<rect x="428" y="145.8" width="13.5" height="17.69999999999999" fill="#c6d9e8"/>
<text x="433.95" y="156.85" font-size="7.6" text-anchor="middle" style="fill:#1a1a1a;stroke:#1a1a1a;stroke-width:0.06px">uv<tspan font-size="5.2" dy="1.6">2</tspan></text>
<rect x="447.1" y="145.8" width="13.099999999999966" height="17.69999999999999" fill="#c6d9e8"/>
<text x="452.84999999999997" y="156.85" font-size="7.6" text-anchor="middle" style="fill:#1a1a1a;stroke:#1a1a1a;stroke-width:0.06px">rv<tspan font-size="5.2" dy="1.6">1</tspan></text>
<rect x="475.6" y="145.8" width="13.399999999999977" height="17.69999999999999" fill="#c6d9e8"/>
<text x="481.5" y="156.85" font-size="7.6" text-anchor="middle" style="fill:#1a1a1a;stroke:#1a1a1a;stroke-width:0.06px">rv<tspan font-size="5.2" dy="1.6">2</tspan></text>
<rect x="0.5" y="0.5" width="519" height="332" fill="none" stroke="#000" stroke-width="1"/>
</svg>
</body></html>
